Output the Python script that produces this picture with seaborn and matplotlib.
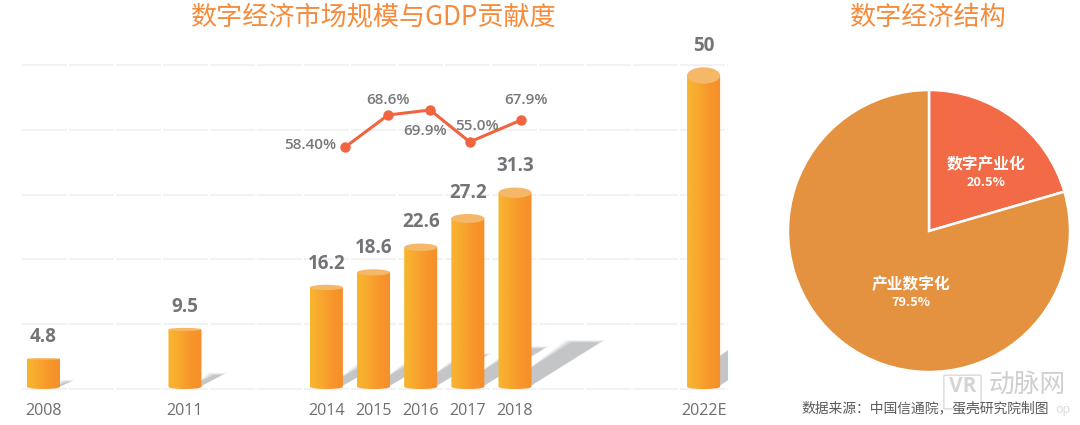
import numpy as np
import pandas as pd
import matplotlib
matplotlib.use('Agg')
import matplotlib.pyplot as plt
import seaborn as sns
from matplotlib.colors import LinearSegmentedColormap
from matplotlib.patches import Ellipse, FancyBboxPatch, PathPatch
from matplotlib.path import Path

# data
years = [2008, 2011, 2014, 2015, 2016, 2017, 2018, 2022]
year_labels = ['2008', '2011', '2014', '2015', '2016', '2017', '2018', '2022E']
scale_values = [4.8, 9.5, 16.2, 18.6, 22.6, 27.2, 31.3, 50]
scale_labels = ['4.8', '9.5', '16.2', '18.6', '22.6', '27.2', '31.3', '50']

# the line is not to scale with its labels, so heights are kept apart
rate_x = [2014.40, 2015.31, 2016.20, 2017.04, 2018.13]
rate_height = [38.6, 43.7, 44.5, 39.4, 42.9]
rate_labels = ['58.40%', '68.6%', '69.9%', '55.0%', '67.9%']
rate_offsets = [(-35, 2), (0, 15), (-5, -21), (7, 16), (5, 20)]

grid_levels = [0, 10.33, 20.66, 31.0, 41.3, 51.6]

pie_names = ['数字产业化', '产业数字化']
pie_shares = [20.5, 79.5]
pie_colors = ['#F26B46', '#E59240']

W, H = 1080, 425
PX_YEAR = 47.15
PX_UNIT = 6.27
X_2008 = 43.5

sns.set_theme(style='white')
plt.rcParams['font.family'] = ['Noto Sans CJK SC', 'DejaVu Sans']
plt.rcParams['lines.scale_dashes'] = False

fig = plt.figure(figsize=(W / 100, H / 100), dpi=100, facecolor='white')


def px_axes(x0, y0, x1, y1):
    # axes from pixel box, y counted from the top like in the picture
    return fig.add_axes([x0 / W, 1 - y1 / H, (x1 - x0) / W, (y1 - y0) / H])


##### bars
ax = px_axes(0, 0, 728, 395)
ax.set_facecolor('none')
xlim = (2008 - X_2008 / PX_YEAR, 2008 + (728 - X_2008) / PX_YEAR)
ylim = (-6 / PX_UNIT, 389 / PX_UNIT)

df = pd.DataFrame({'year': years, 'value': scale_values})
sns.barplot(data=df, x='year', y='value', native_scale=True, width=0.7,
            color='#F7A02D', ax=ax, zorder=3)

ax.hlines(grid_levels, 2008 - 22 / PX_YEAR, xlim[1], color='#EFEFEF', lw=1.1,
          linestyle=(0, (45 * 0.72, 2 * 0.72)), zorder=0)

bar_cmap = LinearSegmentedColormap.from_list('bar', ['#F8B52F', '#F8A82E', '#F7962B', '#F68F2A'])
gradient = np.linspace(0, 1, 64).reshape(1, -1)

for patch, v, lab in zip(list(ax.patches), scale_values, scale_labels):
    x0, w = patch.get_x(), patch.get_width()
    x1 = x0 + w
    cx = x0 + w / 2
    ry_top = 0.165 * v / PX_UNIT
    ry_bot = 2.2 / PX_UNIT

    # shadow first, a few stacked polygons to soften the edges
    for grow, alpha in zip([5, 3.5, 2, 0.5, -1], [0.12, 0.15, 0.2, 0.25, 0.3]):
        tip_r = x1 + (2.2 * v + grow) / PX_YEAR
        tip_l = x1 + (1.25 * v - grow) / PX_YEAR
        tip_y = (1.5 * v + grow * 0.4) / PX_UNIT
        poly = [(x1 - 0.1, 0.1), (tip_r, tip_y), (tip_l, tip_y), (x1 - 0.1, 0.6 * v / PX_UNIT)]
        ax.fill(*zip(*poly), color='#ABADAF', alpha=alpha, lw=0, zorder=1)

    # cylinder body with a left to right gradient
    t = np.linspace(np.pi, 2 * np.pi, 30)
    outline = list(zip(cx + w / 2 * np.cos(t), ry_bot + ry_bot * np.sin(t)))
    outline += [(x1, v), (x0, v), (x0, ry_bot)]
    body = PathPatch(Path(outline), transform=ax.transData, fc='none', ec='none')
    ax.add_patch(body)
    im = ax.imshow(gradient, cmap=bar_cmap, extent=[x0, x1, 0, v + 1], aspect='auto', zorder=3)
    im.set_clip_path(body)
    patch.set_visible(False)

    ax.add_patch(Ellipse((cx, v), w, 2 * ry_top, fc='#F5B768', ec='none', zorder=4))
    ax.annotate(lab, (cx, v), xytext=(0, (21 + 0.17 * v) * 0.72),
                textcoords='offset points', ha='center', va='center', fontsize=13.5,
                family=['Open Sans', 'DejaVu Sans'], fontweight='bold', color='#737477', zorder=6)

##### line
sns.lineplot(x=rate_x, y=rate_height, color='#F0643F', lw=2.2, marker='o', markersize=7.5,
             markeredgewidth=0, ax=ax, zorder=5, errorbar=None, sort=False)
for x, y, lab, off in zip(rate_x, rate_height, rate_labels, rate_offsets):
    ax.annotate(lab, (x, y), xytext=(off[0] * 0.72, off[1] * 0.72),
                textcoords='offset points', ha='center', va='center', fontsize=11,
                family=['Open Sans', 'DejaVu Sans'], fontweight='semibold', color='#77787B', zorder=6)

ax.set_xlim(xlim)
ax.set_ylim(ylim)
ax.set_xticks(years, year_labels)
ax.set_yticks([])
ax.set_xlabel('')
ax.set_ylabel('')
ax.tick_params(axis='x', length=0, pad=6, labelsize=11.6, labelcolor='#6E6E6E')
for lab in ax.get_xticklabels():
    lab.set_family(['Open Sans', 'DejaVu Sans'])
sns.despine(ax=ax, left=True, bottom=True)

##### pie
ax_pie = px_axes(788, 90, 1070, 372)
ax_pie.pie(pie_shares, colors=pie_colors, startangle=90, counterclock=False,
           wedgeprops={'edgecolor': 'white', 'linewidth': 1.8})
ax_pie.set_xlim(-1, 1)
ax_pie.set_ylim(-1, 1)
for pos, name, share in zip([(0.407, 0.476), (-0.129, -0.379)], pie_names, pie_shares):
    ax_pie.text(pos[0], pos[1], name, ha='center', va='center', color='white',
                fontsize=11.3, fontweight='bold')
    ax_pie.text(pos[0], pos[1] - 0.13, f'{share}%', ha='center', va='center', color='white',
                fontsize=9.2, fontweight='bold')

##### titles and source
fig.text(374 / W, 1 - 17 / H, '数字经济市场规模与GDP贡献度', ha='center', va='center',
         fontsize=18.8, color='#F58B3B', fontweight='medium')
fig.text(928 / W, 1 - 17 / H, '数字经济结构', ha='center', va='center',
         fontsize=18.8, color='#F58B3B', fontweight='medium')

# watermark bottom right
fig.add_artist(FancyBboxPatch((946 / W, 1 - 408 / H), 33 / W, 32 / H, boxstyle='round,pad=0.002',
                              transform=fig.transFigure, fc='none', ec='#DADADA', lw=1))
fig.text(963 / W, 1 - 387 / H, 'VR', ha='center', va='center', fontsize=15, fontweight='bold',
         color='#D4D4D4', family=['Open Sans', 'DejaVu Sans'])
fig.text(1027 / W, 1 - 386 / H, '动脉网', ha='center', va='center', fontsize=18.5, color='#CFCFCF')
fig.text(1063 / W, 1 - 409 / H, 'op', ha='center', va='center', fontsize=9, color='#DDDDDD')

fig.text(925 / W, 1 - 408 / H, '数据来源：中国信通院，蛋壳研究院制图', ha='center', va='center',
         fontsize=9.95, color='#5A5A5A')

fig.savefig('out.png', dpi=100)
